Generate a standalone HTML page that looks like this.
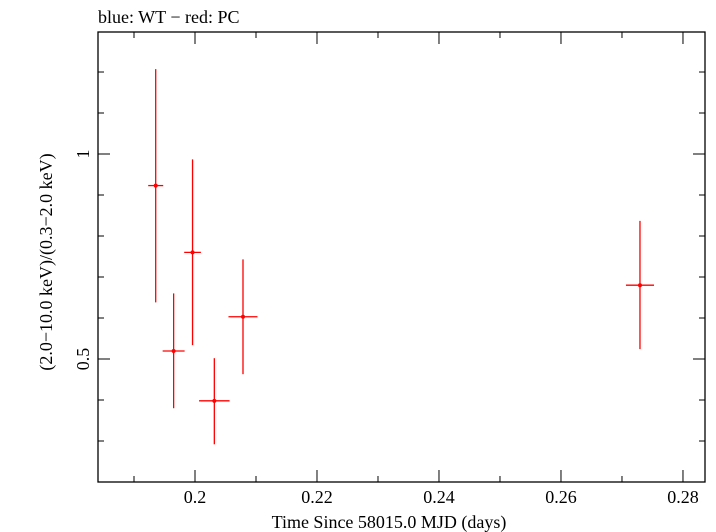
<!DOCTYPE html>
<html><head><meta charset="utf-8"><style>
html,body{margin:0;padding:0;background:#fff;}
svg{display:block;font-family:"Liberation Serif",serif;}
</style></head><body>
<svg id="chart" width="716" height="532" viewBox="0 0 716 532" xmlns="http://www.w3.org/2000/svg">
<text x="98" y="23" font-size="18">blue: WT − red: PC</text>
<rect x="98" y="32" width="607" height="450" fill="none" stroke="#000" stroke-width="1.3"/>
<g id="axes"></g>
<g id="marks"></g>
<text x="389" y="528" font-size="18" text-anchor="middle">Time Since 58015.0 MJD (days)</text>
<text transform="translate(52,262) rotate(-90)" font-size="18" text-anchor="middle">(2.0−10.0 keV)/(0.3−2.0 keV)</text>
</svg>
<script>
const times=[0.19356,0.1965,0.1996,0.20317,0.20787,0.27295];
const timeErr=[0.00123,0.0018,0.00137,0.0025,0.00238,0.0023];
const ratios=[0.923,0.5195,0.760,0.398,0.603,0.680];
const ratioHi=[1.207,0.660,0.987,0.502,0.743,0.837];
const ratioLo=[0.638,0.380,0.534,0.292,0.463,0.524];
const xTickLabels=["0.2","0.22","0.24","0.26","0.28"];
const xMinorTicks=[0.19,0.21,0.23,0.25,0.27];
const yTickLabels=["0.5","1"];
const yMinorTicks=[0.3,0.4,0.6,0.7,0.8,0.9,1.1,1.2];
const X0=98,X1=705,Y0=482,Y1=32,XMIN=0.18410,XMAX=0.28361,YMIN=0.2,YMAX=1.2976;
const sx=v=>X0+(v-XMIN)/(XMAX-XMIN)*(X1-X0);
const sy=v=>Y0-(v-YMIN)/(YMAX-YMIN)*(Y0-Y1);
const NS="http://www.w3.org/2000/svg";
const axes=document.getElementById('axes'),marks=document.getElementById('marks');
function ln(p,x1,y1,x2,y2,c,w){const l=document.createElementNS(NS,'line');l.setAttribute('x1',x1);l.setAttribute('y1',y1);l.setAttribute('x2',x2);l.setAttribute('y2',y2);l.setAttribute('stroke',c);l.setAttribute('stroke-width',w);p.appendChild(l);return l;}
function tx(p,x,y,s,a){const t=document.createElementNS(NS,'text');t.setAttribute('x',x);t.setAttribute('y',y);t.setAttribute('font-size','18');t.setAttribute('text-anchor',a);t.textContent=s;p.appendChild(t);return t;}
xTickLabels.forEach(s=>{const x=sx(parseFloat(s));
 let l=ln(axes,x,Y0,x,Y0-12,'#000',1);
 
 
 l=ln(axes,x,Y1,x,Y1+12,'#000',1);
 
 
 const t=tx(axes,x,503,s,'middle');
 
 });
xMinorTicks.forEach(v=>{const x=sx(v);
 let l=ln(axes,x,Y0,x,Y0-6,'#000',1);
 
 
 l=ln(axes,x,Y1,x,Y1+6,'#000',1);
 
 });
yTickLabels.forEach(s=>{const y=sy(parseFloat(s));
 let l=ln(axes,X0,y,X0+12,y,'#000',1);
 
 
 l=ln(axes,X1,y,X1-12,y,'#000',1);
 
 
 const t=tx(axes,0,0,s,'middle');
 t.setAttribute('transform','translate(89,'+y+') rotate(-90)');
 
 });
yMinorTicks.forEach(v=>{const y=sy(v);
 let l=ln(axes,X0,y,X0+6,y,'#000',1);
 
 
 l=ln(axes,X1,y,X1-6,y,'#000',1);
 
 });
times.forEach((t,i)=>{const g=document.createElementNS(NS,'g');
 
 
 const x=sx(t),y=sy(ratios[i]);
 ln(g,x,sy(ratioHi[i]),x,sy(ratioLo[i]),'#f00',1.3);
 ln(g,sx(t-timeErr[i]),y,sx(t+timeErr[i]),y,'#f00',1.3);
 const c=document.createElementNS(NS,'circle');c.setAttribute('cx',x);c.setAttribute('cy',y);c.setAttribute('r',2);c.setAttribute('fill','#f00');g.appendChild(c);
 marks.appendChild(g);});
</script>
</body></html>
